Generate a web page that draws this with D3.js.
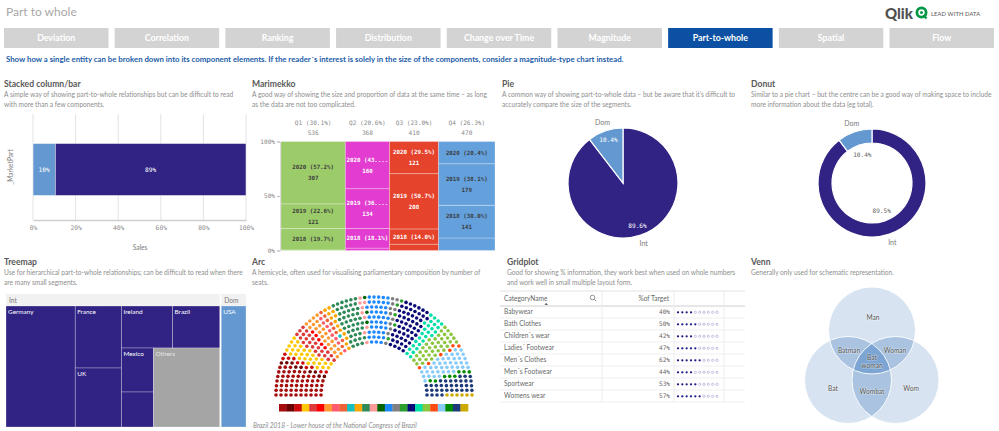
<!DOCTYPE html>
<html><head><meta charset="utf-8">
<script src="https://cdn.jsdelivr.net/npm/d3@7"></script>
<style>
body{margin:0;background:#fff;}
svg{display:block;font-family:Lato,'Open Sans',sans-serif;}
</style></head><body>
<svg id="c" width="999" height="431"></svg>
<script>
// ---------------- DATA ----------------
const pageTitle = "Part to whole";
const navItems = ["Deviation","Correlation","Ranking","Distribution","Change over Time","Magnitude","Part-to-whole","Spatial","Flow"];
const activeNav = "Part-to-whole";
const subtitle = "Show how a single entity can be broken down into its component elements. If the reader\u00b4s interest is solely in the size of the components, consider a magnitude-type chart instead.";

// Stacked bar / pie / donut
const marketParts = ["Dom","Int"];
const marketShare = [10.44, 89.56];
const barTicks = [0,20,40,60,80,100];

// Marimekko
const quarters = ["Q1","Q2","Q3","Q4"];
const years = ["2017","2018","2019","2020"];
const sales2017 = [2.7, 8.1, 23.7, 54.0];
const sales2018 = [105.7, 66.7, 57.4, 141.0];
const sales2019 = [121.2, 134.1, 207.9, 179.1];
const sales2020 = [306.8, 159.5, 121.0, 95.9];

// Treemap
const intCountries = ["Germany","France","UK","Ireland","Brazil","Mexico","","Others"];
const intSales = [8349, 2852, 2714, 2142, 1974, 1408, 1120, 5214];
const domCountries = ["USA"];
const domSales = [3146];

// Arc (parliament seats, left to right)
const partySeats = [57,9,10,29,23,5,23,8,8,1,13,45,9,3,43,11,5,54,26,37,6,40,8,34,6];
const partyColors = ["#a50d0d","#6b0000","#cc0a0a","#ffc800","#df3a3a","#ff0000","#ff9933","#ff5c70","#ef6137","#15bfbf","#ffa500","#2e8b57","#ff9a9a","#006400","#1e88ff","#808080","#2ca02c","#0a0a78","#00e0a8","#8cc63f","#ff4a10","#87cbfa","#008c00","#1f3a78","#ccaa00"];
const arcCaption = "Brazil 2018 - Lower house of the National Congress of Brazil";

// Gridplot
const categories = ["Babywear","Bath Clothes","Children\u00b4s wear","Ladies\u00b4 Footwear","Men\u00b4s Clothes","Men\u00b4s Footwear","Sportwear","Womens wear"];
const pctOfTarget = [40,50,42,47,62,44,53,57];

// Venn
const vennSets = ["Man","Bat","Wom"];
const vennPairs = ["Batman","Woman","Wombat"];
const vennCenter = ["Bat","woman"];

// ---------------- STYLE ----------------
const svg = d3.select("#c");
const TITLE="#595959", DESC="#8e8e8e";
const MONO="'DejaVu Sans Mono',monospace";
const MS=6.1;
const DARK="#312383", LIGHT="#6399d0";

// header
svg.append("text").attr("x",6).attr("y",16).attr("font-size",12).attr("fill","#a8a8a8").text(pageTitle);
// Qlik logo
svg.append("text").attr("x",885).attr("y",18.5).attr("font-size",15).attr("font-weight",900).attr("fill","#505050").text("Qlik");
svg.append("circle").attr("cx",921.5).attr("cy",12.5).attr("r",4.6).attr("fill","none").attr("stroke","#009845").attr("stroke-width",2.8);
svg.append("circle").attr("cx",921.5).attr("cy",12.5).attr("r",1.5).attr("fill","#009845");
svg.append("line").attr("x1",923.5).attr("y1",15).attr("x2",926.5).attr("y2",18.5).attr("stroke","#009845").attr("stroke-width",2.2);
svg.append("text").attr("x",931).attr("y",16).attr("font-size",5.8).attr("fill","#555").attr("letter-spacing",0.1).text("LEAD WITH DATA");

// nav
const navX = d3.scaleBand().domain(navItems).range([4,994]).paddingInner(0.056);
const nav = svg.append("g").selectAll("g").data(navItems).join("g");
nav.append("rect").attr("x",d=>navX(d)).attr("y",28).attr("width",navX.bandwidth()).attr("height",20)
  .attr("fill",d=>d===activeNav?"#0b50a2":"#d3d3d3");
nav.append("text").attr("x",d=>navX(d)+navX.bandwidth()/2).attr("y",41.3).attr("text-anchor","middle")
  .attr("font-size",8.8).attr("font-weight",700).attr("fill","#fff").text(d=>d);

svg.append("text").attr("x",6).attr("y",62).attr("font-size",7.8).attr("font-weight",700).attr("fill","#1b5ca7").text(subtitle);

function panelHead(x,y,title,lines){
  svg.append("text").attr("x",x).attr("y",y).attr("font-size",8.6).attr("font-weight",700).attr("fill",TITLE).text(title);
  lines.forEach((l,i)=>svg.append("text").attr("x",x).attr("y",y+10+i*9.6).attr("font-size",6.6).attr("fill",DESC).text(l));
}
panelHead(4,87,"Stacked column/bar",["A simple way of showing part-to-whole relationships but can be difficult to read","with more than a few components."]);
panelHead(252,87,"Marimekko",["A good way of showing the size and proportion of data at the same time \u2013 as long","as the data are not too complicated."]);
panelHead(502,87,"Pie",["A common way of showing part-to-whole data \u2013 but be aware that it\u2019s difficult to","accurately compare the size of the segments."]);
panelHead(751,87,"Donut",["Similar to a pie chart \u2013 but the centre can be a good way of making space to include","more information about the data (eg total)."]);
panelHead(4,265,"Treemap",["Use for hierarchical part-to-whole relationships; can be difficult to read when there","are many small segments."]);
panelHead(252,265,"Arc",["A hemicycle, often used for visualising parliamentary composition by number of","seats."]);
panelHead(507,265,"Gridplot",["Good for showing % information, they work best when used on whole numbers","and work well in small multiple layout form."]);
panelHead(751,265,"Venn",["Generally only used for schematic representation."]);

// ---------------- STACKED BAR ----------------
{
  const g = svg.append("g");
  const x = d3.scaleLinear().domain([0,100]).range([33,246]);
  const y = d3.scaleBand().domain(["_MarketPart"]).range([114,220]).padding(0.3);
  g.selectAll(".grid").data(barTicks).join("line").attr("x1",d=>x(d)).attr("x2",d=>x(d)).attr("y1",114).attr("y2",220).attr("stroke","#e3e3e3").attr("stroke-width",1);
  const stackData = [Object.fromEntries(marketParts.map((p,i)=>[p,marketShare[i]]))];
  const series = d3.stack().keys(marketParts)(stackData);
  const bars = g.selectAll(".b").data(series).join("g");
  bars.append("rect").attr("x",d=>x(d[0][0])).attr("width",d=>x(d[0][1])-x(d[0][0])).attr("y",y("_MarketPart")+5).attr("height",y.bandwidth()-5)
    .attr("fill",(d,i)=>i===0?LIGHT:DARK).attr("stroke","#fff").attr("stroke-width",0.5);
  bars.append("text").attr("x",d=>(x(d[0][0])+x(d[0][1]))/2).attr("y",y("_MarketPart")+5+(y.bandwidth()-5)/2+2).attr("text-anchor","middle")
    .attr("font-family",MONO).attr("font-size",MS).attr("fill","#fff").text(d=>Math.floor(d[0][1]-d[0][0])+"%");
  const ax = g.append("g").attr("transform","translate(0,220)").call(d3.axisBottom(x).tickValues(barTicks).tickFormat(d=>d+"%").tickSize(0).tickPadding(6));
  ax.select(".domain").attr("stroke","#cfcfcf").attr("stroke-width",1.5);
  ax.selectAll("text").attr("font-family",MONO).attr("font-size",6.3).attr("fill","#8a8a8a");
  g.append("text").attr("x",140).attr("y",250).attr("text-anchor","middle").attr("font-size",6.6).attr("fill","#7a7a7a").text("Sales");
  g.append("text").attr("transform","translate(13,167) rotate(-90)").attr("text-anchor","middle").attr("font-size",6.6).attr("fill","#7a7a7a").text("_MarketPart");
}

// ---------------- MARIMEKKO ----------------
{
  const g = svg.append("g");
  const mmColors = ["#9ccb6a","#e23dd0","#e6432d","#63a0dc"];
  const yearSales = [sales2017,sales2018,sales2019,sales2020];
  const totals = quarters.map((q,i)=>d3.sum(yearSales,s=>s[i]));
  const grand = d3.sum(totals);
  const cum = d3.cumsum([0,...totals]);
  const x = d3.scaleLinear().domain([0,grand]).range([281,495]);
  const y = d3.scaleLinear().domain([0,1]).range([250.5,141.5]);
  const ay = g.append("g").attr("transform","translate(280,0)").call(d3.axisLeft(y).tickValues([0,0.5,1]).tickFormat(d3.format(".0%")).tickSize(3).tickPadding(2));
  ay.select(".domain").attr("stroke","#d6d6d6");
  ay.selectAll(".tick line").attr("stroke","#bbb");
  ay.selectAll("text").attr("font-family",MONO).attr("font-size",6.1).attr("fill","#8a8a8a");
  quarters.forEach((q,i)=>{
    const x0 = x(cum[i]), x1 = x(cum[i+1]), cx=(x0+x1)/2, w=x1-x0;
    g.append("text").attr("x",cx).attr("y",124.5).attr("text-anchor","middle").attr("font-family",MONO).attr("font-size",6.1).attr("fill","#8a8a8a")
      .text(`${q} (${(totals[i]/grand*100).toFixed(1)}%)`);
    g.append("text").attr("x",cx).attr("y",135).attr("text-anchor","middle").attr("font-family",MONO).attr("font-size",6.1).attr("fill","#8a8a8a")
      .text(Math.round(totals[i]));
    let acc = 0;
    const txtCol = d3.lab(mmColors[i]).l > 60 ? "#3c3c3c" : "#ffffff";
    years.forEach((yr,k)=>{
      const v = yearSales[k][i], p0 = acc/totals[i], p1 = (acc+v)/totals[i]; acc+=v;
      const y0 = y(p1), y1 = y(p0), h = y1-y0;
      g.append("rect").attr("x",x0).attr("y",y0).attr("width",w).attr("height",h).attr("fill",mmColors[i])
        .attr("stroke","rgba(255,255,255,0.35)").attr("stroke-width",0.8);
      const pct = (v/totals[i]*100).toFixed(1);
      let lab = `${yr} (${pct}%)`;
      if (h >= 24) {
        if (lab.length*3.5 > w-5) lab = lab.slice(0,9)+"...";
        g.append("text").attr("x",cx).attr("y",(y0+y1)/2-3.3).attr("text-anchor","middle").attr("font-family",MONO).attr("font-size",5.8).attr("font-weight",700).attr("fill",txtCol).text(lab);
        g.append("text").attr("x",cx).attr("y",(y0+y1)/2+7.7).attr("text-anchor","middle").attr("font-family",MONO).attr("font-size",5.8).attr("font-weight",700).attr("fill",txtCol).text(Math.round(v));
      } else if (h >= 14) {
        g.append("text").attr("x",cx).attr("y",(y0+y1)/2+2).attr("text-anchor","middle").attr("font-family",MONO).attr("font-size",5.8).attr("font-weight",700).attr("fill",txtCol).text(lab);
      }
    });
  });
}

// ---------------- PIE & DONUT ----------------
function drawPie(cx,cy,R,inner,pctFmt,inLabelR,inCol){
  const g = svg.append("g").attr("transform",`translate(${cx},${cy})`);
  const data = marketParts.map((p,i)=>({p,v:marketShare[i]})).reverse(); // Int first (clockwise), Dom last
  const arcs = d3.pie().sort(null).value(d=>d.v)(data);
  const arc = d3.arc().innerRadius(inner).outerRadius(R);
  g.selectAll("path").data(arcs).join("path").attr("d",arc).attr("fill",d=>d.data.p==="Int"?DARK:LIGHT).attr("stroke","#fff").attr("stroke-width",1.2);
  const outA = d3.arc().innerRadius(R+9).outerRadius(R+9);
  const inA = d3.arc().innerRadius(inLabelR).outerRadius(inLabelR);
  g.selectAll(".o").data(arcs).join("text").attr("x",d=>outA.centroid(d)[0]).attr("y",d=>outA.centroid(d)[1]+2.5).attr("text-anchor","middle")
    .attr("font-size",7).attr("fill","#7a7a7a").text(d=>d.data.p);
  g.selectAll(".i").data(arcs).join("text").attr("x",d=>inA.centroid(d)[0]).attr("y",d=>inA.centroid(d)[1]+2).attr("text-anchor","middle")
    .attr("font-family",MONO).attr("font-size",MS).attr("fill",inCol).text(d=>pctFmt(d.data.v)+"%");
}
drawPie(623,183,55,0,v=>v.toFixed(1),45,"#ffffff");
drawPie(872,183,54,40,v=>(Math.floor(v*10)/10).toFixed(1),30,"#666");

// ---------------- TREEMAP ----------------
{
  const g = svg.append("g").attr("transform","translate(6,294)");
  const tm = {name:"root",children:[
    {name:"Int",children:intCountries.map((c,i)=>({name:c,value:intSales[i]}))},
    {name:"Dom",children:domCountries.map((c,i)=>({name:c,value:domSales[i]}))}
  ]};
  const root = d3.hierarchy(tm).sum(d=>d.value||0);
  d3.treemap().tile(d3.treemapSquarify.ratio(1)).size([240,133])
    .paddingTop(d=>d.depth===1?12:0).paddingInner(d=>d.depth===0?1.5:0)(root);
  root.children.forEach(n=>{
    g.append("rect").attr("x",n.x0).attr("y",n.y0).attr("width",n.x1-n.x0).attr("height",12).attr("fill","#f1f1f1");
    g.append("text").attr("x",n.x0+3).attr("y",n.y0+8.5).attr("font-size",6.6).attr("fill","#7a7a7a").text(n.data.name);
  });
  root.leaves().forEach(n=>{
    const other = n.data.name==="Others";
    g.append("rect").attr("x",n.x0).attr("y",n.y0).attr("width",n.x1-n.x0).attr("height",n.y1-n.y0)
      .attr("fill",other?"#a5a5a5":(n.parent.data.name==="Dom"?LIGHT:DARK)).attr("stroke","rgba(255,255,255,0.4)").attr("stroke-width",0.7);
    if(n.data.name) g.append("text").attr("x",n.x0+2).attr("y",n.y0+7.5).attr("font-size",6.4).attr("fill",other?"#e6e6e6":"#ffffff").text(n.data.name);
  });
}

// ---------------- ARC ----------------
{
  const g = svg.append("g");
  const cx=374, cy=395, rows=10;
  const rScale = d3.scaleLinear().domain([0,rows-1]).range([53,98]);
  const radii = d3.range(rows).map(rScale);
  const total = d3.sum(partySeats), sumR = d3.sum(radii);
  const exact = radii.map(r=>total*r/sumR);
  const per = exact.map(Math.floor);
  const rem = total - d3.sum(per);
  d3.range(rows).sort((a,b)=>(exact[b]-per[b])-(exact[a]-per[a])).slice(0,rem).forEach(i=>per[i]++);
  const seats=[];
  radii.forEach((r,i)=>{const n=per[i]; for(let j=0;j<n;j++){seats.push({r,a:Math.PI*(1-j/(n-1))});}});
  seats.sort((p,q)=>(q.a-p.a)||(p.r-q.r));
  let k=0; partySeats.forEach((n,pi)=>{for(let s=0;s<n;s++) seats[k++].party=pi;});
  g.selectAll("circle").data(seats).join("circle").attr("cx",d=>cx+d.r*Math.cos(d.a)).attr("cy",d=>cy-d.r*Math.sin(d.a))
    .attr("r",1.8).attr("fill",d=>partyColors[d.party]);
  const lx = d3.scaleBand().domain(d3.range(partySeats.length)).range([279,468]);
  g.selectAll("rect").data(d3.range(partySeats.length)).join("rect").attr("x",d=>lx(d)).attr("y",404).attr("width",lx.bandwidth()+0.3).attr("height",7.5).attr("fill",d=>partyColors[d]);
  g.append("text").attr("x",253).attr("y",427.5).attr("font-size",6.6).attr("font-style","italic").attr("fill","#8e8e8e").text(arcCaption);
}

// ---------------- GRIDPLOT ----------------
{
  const g = svg.append("g");
  const cols=[500,602,674,724,745];
  const rowY = d3.scaleBand().domain(categories).range([306,402]);
  g.append("line").attr("x1",500).attr("x2",745).attr("y1",291).attr("y2",291).attr("stroke","#e4e4e4");
  g.append("line").attr("x1",500).attr("x2",745).attr("y1",306).attr("y2",306).attr("stroke","#d0d0d0");
  cols.slice(1,4).forEach(c=>g.append("line").attr("x1",c).attr("x2",c).attr("y1",291).attr("y2",402).attr("stroke","#ececec"));
  g.append("text").attr("x",504).attr("y",301).attr("font-size",6.6).attr("fill","#666").text("CategoryName");
  g.append("path").attr("d","M544.5,305 L548,305 L546.2,302.8 Z").attr("fill","#666");
  g.append("circle").attr("cx",592.5).attr("cy",297.5).attr("r",2.3).attr("fill","none").attr("stroke","#777").attr("stroke-width",0.8);
  g.append("line").attr("x1",594.2).attr("y1",299.2).attr("x2",596.2).attr("y2",301.2).attr("stroke","#777").attr("stroke-width",0.9);
  g.append("text").attr("x",669).attr("y",301).attr("text-anchor","end").attr("font-size",6.6).attr("fill","#666").text("%of Target");
  const dotX = d3.scaleLinear().domain([0,9]).range([678,717]);
  categories.forEach((c,i)=>{
    const y0=rowY(c), ym=y0+rowY.bandwidth()/2;
    g.append("line").attr("x1",500).attr("x2",745).attr("y1",y0+rowY.bandwidth()).attr("y2",y0+rowY.bandwidth()).attr("stroke","#efefef");
    g.append("text").attr("x",504).attr("y",ym+2.3).attr("font-size",6.6).attr("fill","#6a6a6a").text(c);
    g.append("text").attr("x",670).attr("y",ym+2.3).attr("text-anchor","end").attr("font-family",MONO).attr("font-size",MS).attr("fill","#6a6a6a").text(pctOfTarget[i]+"%");
    const filled = Math.round(pctOfTarget[i]/10);
    g.selectAll(null).data(d3.range(10)).join("circle").attr("cx",d=>dotX(d)).attr("cy",ym+0.3).attr("r",1.15)
      .attr("fill",d=>d<filled?"#1e1a86":"#fff").attr("stroke",d=>d<filled?"none":"#9d9ad2").attr("stroke-width",0.6);
  });
}

// ---------------- VENN ----------------
{
  const g = svg.append("g");
  const R = 43.5;
  const pos = {Man:[872,330.5], Bat:[848,380], Wom:[895.5,380]};
  const defs = svg.append("defs");
  vennSets.forEach(s=>{ defs.append("clipPath").attr("id","clip"+s).append("circle").attr("cx",pos[s][0]).attr("cy",pos[s][1]).attr("r",R); });
  vennSets.forEach(s=> g.append("circle").attr("cx",pos[s][0]).attr("cy",pos[s][1]).attr("r",R).attr("fill","#d7e3f0"));
  [["Man","Bat"],["Man","Wom"],["Bat","Wom"]].forEach(([a,b])=>{
    g.append("g").attr("clip-path",`url(#clip${a})`).append("circle").attr("cx",pos[b][0]).attr("cy",pos[b][1]).attr("r",R).attr("fill","#a9c3e0");
  });
  g.append("g").attr("clip-path","url(#clipMan)").append("g").attr("clip-path","url(#clipBat)")
    .append("circle").attr("cx",pos.Wom[0]).attr("cy",pos.Wom[1]).attr("r",R).attr("fill","#7ca5d4");
  vennSets.forEach(s=> g.append("circle").attr("cx",pos[s][0]).attr("cy",pos[s][1]).attr("r",R).attr("fill","none").attr("stroke","#fff").attr("stroke-width",0.9));
  const labs = [[vennSets[0],873,319.5],[vennSets[1],833,390.5],[vennSets[2],911,390.5],[vennPairs[0],849,352.5],[vennPairs[1],895,352.5],[vennPairs[2],872,393.5],[vennCenter[0],872,360],[vennCenter[1],872,367.5]];
  labs.forEach(([t,x,y])=>g.append("text").attr("x",x).attr("y",y).attr("text-anchor","middle").attr("font-size",6.6).attr("fill","#555")
    .attr("stroke","rgba(255,255,255,0.45)").attr("stroke-width",1.2).attr("paint-order","stroke").text(t));
}
</script>
</body></html>
